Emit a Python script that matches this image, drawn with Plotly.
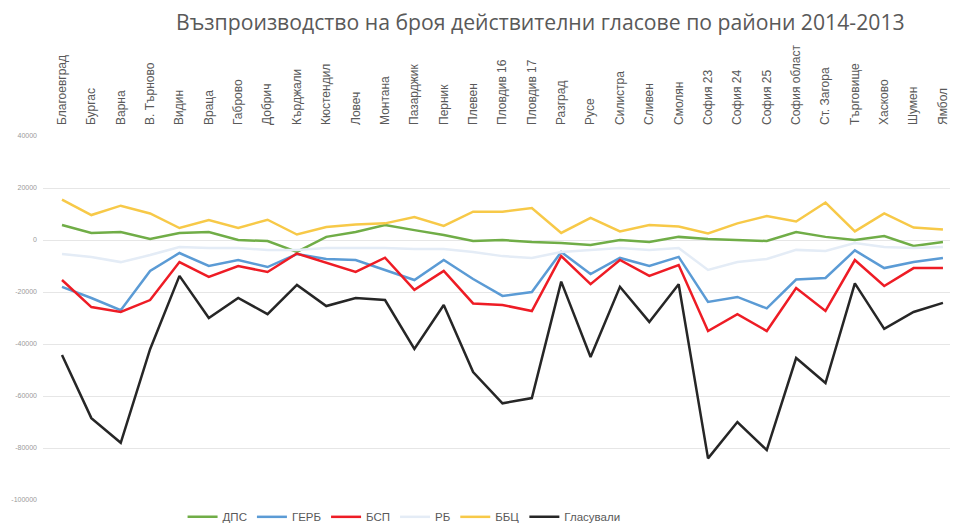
import plotly.graph_objects as go

regions = ["Благоевград", "Бургас", "Варна", "В. Търново", "Видин", "Враца", "Габрово", "Добрич",
           "Кърджали", "Кюстендил", "Ловеч", "Монтана", "Пазарджик", "Перник", "Плевен",
           "Пловдив 16", "Пловдив 17", "Разград", "Русе", "Силистра", "Сливен", "Смолян",
           "София 23", "София 24", "София 25", "София област", "Ст. Загора", "Търговище",
           "Хасково", "Шумен", "Ямбол"]

dps = [5800, 2700, 3100, 400, 2700, 3100, 0, -400, -4600, 1200, 3100, 5800, 3800, 1900, -400,
       0, -800, -1200, -1900, 0, -800, 1200, 400, 0, -400, 3100, 1200, 0, 1500, -2300, -800]
gerb = [-18000, -22300, -27000, -11900, -5000, -10000, -7700, -10400, -5400, -7300, -7700, -11500,
        -15400, -7700, -15000, -21500, -20000, -4600, -13100, -6900, -10000, -6500, -23800, -21900,
        -26300, -15200, -14600, -4000, -10800, -8500, -6900]
bsp = [-15400, -25800, -27700, -23100, -8500, -14200, -10000, -12300, -5200, -8600, -12300, -6800,
       -19200, -11900, -24400, -25000, -27300, -6200, -17000, -7700, -13800, -9600, -35000, -28500,
       -35000, -18500, -27300, -7700, -17700, -10800, -10800]
rb = [-5400, -6500, -8500, -5800, -2700, -3100, -3100, -3800, -3800, -3100, -3100, -3100, -3500,
      -3500, -4600, -6200, -6900, -4600, -3800, -3100, -3800, -3100, -11500, -8500, -7300, -3800,
      -4200, -1200, -2700, -3100, -2700]
bbc = [15500, 9600, 13200, 10200, 4600, 7700, 4600, 7800, 2100, 5000, 6000, 6400, 8800, 5400,
       10900, 10900, 12300, 2700, 8500, 3300, 5800, 5200, 2500, 6400, 9200, 7100, 14400, 3300,
       10200, 4800, 4000]
glas = [-44200, -68500, -78000, -42000, -13800, -30000, -22300, -28500, -17300, -25400, -22300,
        -23100, -41900, -25000, -50800, -62800, -60800, -16000, -45000, -18000, -31500, -17000,
        -84000, -70000, -80800, -45400, -55000, -16700, -34200, -27700, -24200]

series = [("ДПС", dps, "#70ad47"), ("ГЕРБ", gerb, "#5b9bd5"), ("БСП", bsp, "#ee1c25"),
          ("РБ", rb, "#e4ecf6"), ("ББЦ", bbc, "#f7c948"), ("Гласували", glas, "#262626")]

y_ticks = [40000, 20000, 0, -20000, -40000, -60000, -80000, -100000]
y_tick_labels = ["40000", "20000", "0", "-20000", "-40000", "-60000", "-80000", "-100000"]

fig = go.Figure()
for name, vals, col in series:
    fig.add_trace(go.Scatter(x=regions, y=vals, name=name, mode="lines",
                             line=dict(color=col, width=2.5)))

fig.update_layout(
    width=953, height=529,
    margin=dict(l=43, r=3, t=136, b=29),
    paper_bgcolor="white", plot_bgcolor="white",
    font=dict(family="Liberation Sans Narrow, Liberation Sans, sans-serif", color="#595959"),
    title=dict(text="Възпроизводство на броя действителни гласове по райони 2014-2013",
               x=0.567, xanchor="center", y=0.958, yanchor="middle",
               font=dict(size=21.2, color="#595959", family="Open Sans, sans-serif")),
    showlegend=True,
    legend=dict(orientation="h", x=0.424, xanchor="center", xref="container",
                y=0.023, yanchor="middle", yref="container",
                font=dict(size=11.5, color="#595959"), itemwidth=30, tracegroupgap=0),
    xaxis=dict(type="category", side="top", tickangle=-90, range=[-0.647, 30.24],
               automargin=False,
               showgrid=False, showline=False, ticks="", ticklabelstandoff=10,
               tickfont=dict(size=12, color="#595959")),
    yaxis=dict(range=[-100000, 40000], tickvals=y_ticks, ticktext=y_tick_labels,
               automargin=False,
               showgrid=True, gridcolor="#e6e6e6", gridwidth=1, zeroline=False,
               tickfont=dict(size=7, color="#9a9a9a"), ticks="", ticklabelstandoff=5),
)

fig.write_html("out.html", config={"displayModeBar": False},
               post_script="document.body.style.margin='0';")
